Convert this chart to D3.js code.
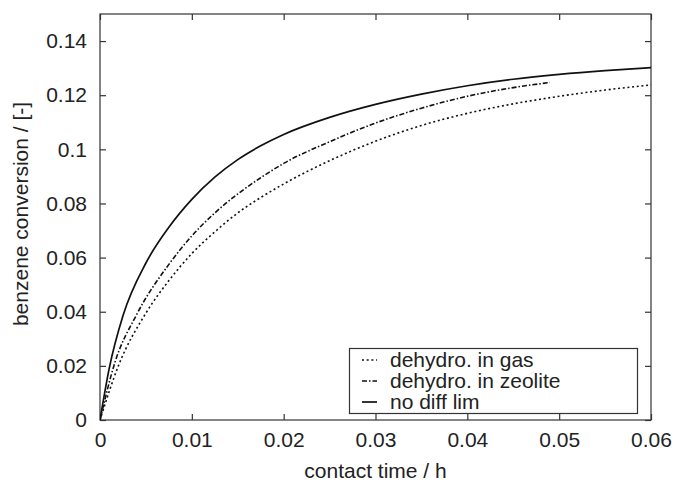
<!DOCTYPE html>
<html>
<head>
<meta charset="utf-8">
<script src="https://cdn.jsdelivr.net/npm/d3@7"></script>
<style>
html,body{margin:0;padding:0;background:#fff;}
svg{display:block;}
text{font-family:"Liberation Sans",Arial,Helvetica,sans-serif;fill:#222;}
</style>
</head>
<body>
<script>
const xTicks = [0, 0.01, 0.02, 0.03, 0.04, 0.05, 0.06];
const xTickLabels = ["0", "0.01", "0.02", "0.03", "0.04", "0.05", "0.06"];
const yTicks = [0, 0.02, 0.04, 0.06, 0.08, 0.1, 0.12, 0.14];
const yTickLabels = ["0", "0.02", "0.04", "0.06", "0.08", "0.1", "0.12", "0.14"];

const seriesNames = ["dehydro. in gas", "dehydro. in zeolite", "no diff lim"];

const gasT = [0, 0.002, 0.005, 0.0075, 0.01, 0.0125, 0.015, 0.0175, 0.02, 0.025, 0.03, 0.035, 0.04, 0.045, 0.05, 0.055, 0.06];
const gasV = [0, 0.020, 0.0395, 0.0515, 0.0615, 0.0695, 0.0765, 0.0822, 0.0872, 0.0958, 0.1030, 0.1088, 0.1133, 0.1168, 0.1196, 0.1219, 0.1238];

const zeoT = [0, 0.0016, 0.004, 0.0075, 0.01, 0.0125, 0.015, 0.0175, 0.02, 0.025, 0.03, 0.035, 0.04, 0.045, 0.049];
const zeoV = [0, 0.021, 0.039, 0.0575, 0.068, 0.0765, 0.0835, 0.0895, 0.0948, 0.1028, 0.1097, 0.1152, 0.1196, 0.1228, 0.1247];

const noDiffT = [0, 0.001, 0.0025, 0.005, 0.0075, 0.01, 0.0125, 0.015, 0.0175, 0.02, 0.025, 0.03, 0.035, 0.04, 0.045, 0.05, 0.055, 0.06];
const noDiffV = [0, 0.019, 0.0385, 0.0580, 0.0712, 0.0815, 0.0897, 0.0962, 0.1013, 0.1055, 0.1118, 0.1166, 0.1204, 0.1235, 0.1259, 0.1277, 0.1291, 0.1302];

const W = 676, H = 484;
const m = {left: 100, top: 14, right: 25, bottom: 64};
const pw = W - m.left - m.right, ph = H - m.top - m.bottom;

const svg = d3.select("body").append("svg").attr("width", W).attr("height", H);
const g = svg.append("g").attr("transform", `translate(${m.left},${m.top})`);

const x = d3.scaleLinear().domain([0, 0.06]).range([0, pw]);
const y = d3.scaleLinear().domain([0, 0.15]).range([ph, 0]);

const axisColor = "#333";
const fs = 21;

// frame
g.append("rect").attr("x", 0).attr("y", 0).attr("width", pw).attr("height", ph)
  .attr("fill", "none").attr("stroke", axisColor).attr("stroke-width", 1.2);

// axes with inward ticks
const xAxisB = d3.axisBottom(x).tickValues(xTicks).tickFormat((d, i) => xTickLabels[i]).tickSizeInner(-6).tickSizeOuter(0).tickPadding(12);
const xAxisT = d3.axisTop(x).tickValues(xTicks).tickFormat("").tickSizeInner(-6).tickSizeOuter(0);
const yAxisL = d3.axisLeft(y).tickValues(yTicks).tickFormat((d, i) => yTickLabels[i]).tickSizeInner(-6).tickSizeOuter(0).tickPadding(13);
const yAxisR = d3.axisRight(y).tickValues(yTicks).tickFormat("").tickSizeInner(-6).tickSizeOuter(0);

function style(sel) {
  sel.select(".domain").remove();
  sel.selectAll(".tick line").attr("stroke", axisColor).attr("stroke-width", 1.2);
  sel.selectAll(".tick text").attr("font-size", fs).attr("fill", "#222")
    .style("font-family", '"Liberation Sans",Arial,sans-serif');
}
g.append("g").attr("transform", `translate(0,${ph})`).call(xAxisB).call(style);
g.append("g").call(xAxisT).call(style);
g.append("g").call(yAxisL).call(style);
g.append("g").attr("transform", `translate(${pw},0)`).call(yAxisR).call(style);

// axis titles
svg.append("text").attr("x", m.left + pw / 2).attr("y", 478).attr("text-anchor", "middle")
  .attr("font-size", fs).text("contact time / h");
svg.append("text").attr("transform", `translate(28,${m.top + ph / 2 - 3}) rotate(-90)`).attr("text-anchor", "middle")
  .attr("font-size", fs).text("benzene conversion / [-]");

const line = d3.line().x(d => x(d[0])).y(d => y(d[1])).curve(d3.curveMonotoneX);
const series = [
  {name: seriesNames[0], t: gasT, v: gasV, dash: "2,2.7", w: 1.6},
  {name: seriesNames[1], t: zeoT, v: zeoV, dash: "5,2,1.5,2", w: 1.6},
  {name: seriesNames[2], t: noDiffT, v: noDiffV, dash: null, w: 1.7}
];
const clip = svg.append("defs").append("clipPath").attr("id", "clip");
clip.append("rect").attr("width", pw).attr("height", ph);
const lines = g.append("g").attr("clip-path", "url(#clip)");
series.forEach(s => {
  const pts = s.t.map((t, i) => [t, s.v[i]]);
  lines.append("path").datum(pts).attr("d", line).attr("fill", "none")
    .attr("stroke", "#111").attr("stroke-width", s.w)
    .attr("stroke-dasharray", s.dash);
});

// legend
const lg = svg.append("g");
lg.append("rect").attr("x", 349.5).attr("y", 348.5).attr("width", 288).attr("height", 65)
  .attr("fill", "#fff").attr("stroke", axisColor).attr("stroke-width", 1.2);
series.forEach((s, i) => {
  const yy = 360 + i * 21;
  lg.append("line").attr("x1", 362).attr("x2", 377).attr("y1", yy).attr("y2", yy)
    .attr("stroke", "#111").attr("stroke-width", s.w).attr("stroke-dasharray", s.dash);
  lg.append("text").attr("x", 390).attr("y", yy + 7).attr("font-size", fs).text(s.name);
});
</script>
</body>
</html>
